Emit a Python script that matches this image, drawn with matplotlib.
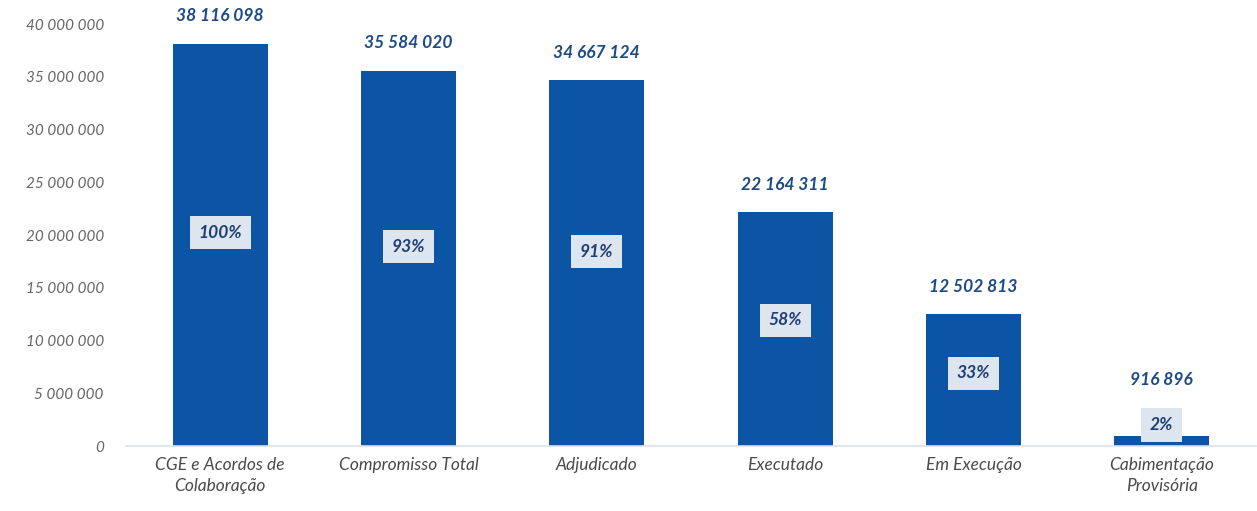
import matplotlib
matplotlib.use("Agg")
import matplotlib.pyplot as plt
from matplotlib.ticker import FuncFormatter, MultipleLocator

categories = ["CGE e Acordos de\nColaboração", "Compromisso Total", "Adjudicado",
              "Executado", "Em Execução", "Cabimentação\nProvisória"]
values = [38116098, 35584020, 34667124, 22164311, 12502813, 916896]
percents = ["100%", "93%", "91%", "58%", "33%", "2%"]

plt.rcParams['font.family'] = ['Lato', 'DejaVu Sans']

fig = plt.figure(figsize=(12.57, 5.11), dpi=100)
ax = fig.add_axes([126/1257, 65/511, 1130/1257, 422/511])

bar_color = "#0c54a4"
x = list(range(len(categories)))
ax.bar(x, values, width=0.505, color=bar_color, zorder=2)

ax.set_xlim(-0.5, len(categories) - 0.5)
ax.set_ylim(0, 40000000)
ax.yaxis.set_major_locator(MultipleLocator(5000000))
ax.yaxis.set_major_formatter(FuncFormatter(lambda v, p: f"{int(v):,}".replace(",", " ")))

for s in ["top", "right", "left"]:
    ax.spines[s].set_visible(False)
ax.spines["bottom"].set_color("#d9e1ea")
ax.spines["bottom"].set_linewidth(1.2)
ax.tick_params(axis="y", length=0, pad=16, labelsize=11, labelcolor="#666666")
ax.tick_params(axis="x", length=0, pad=8, labelsize=12.5, labelcolor="#4a4a4a")
ax.set_xticks(x)
ax.set_xticklabels(categories, style="italic", linespacing=1.35)
for lab in ax.get_yticklabels():
    lab.set_style("italic")

text_color = "#1c4a87"
for xi, v, pct in zip(x, values, percents):
    py = max(v * 0.52 + 400000, 2000000)
    ax.text(xi, py, pct, ha="center", va="center", fontsize=12.5, fontweight="bold",
            style="italic", color="#1f3f73", zorder=3,
            bbox=dict(boxstyle="square,pad=0.5", facecolor="#dde5ef", edgecolor="none"))
    ly = max(v, py + 1700000)
    ax.annotate(f"{v:,}".replace(",", " "), (xi, ly), xytext=(0, 14),
                textcoords="offset points", ha="center", va="bottom",
                fontsize=12.5, fontweight="bold", style="italic", color=text_color,
                annotation_clip=False)

fig.savefig("out.png", dpi=100)
